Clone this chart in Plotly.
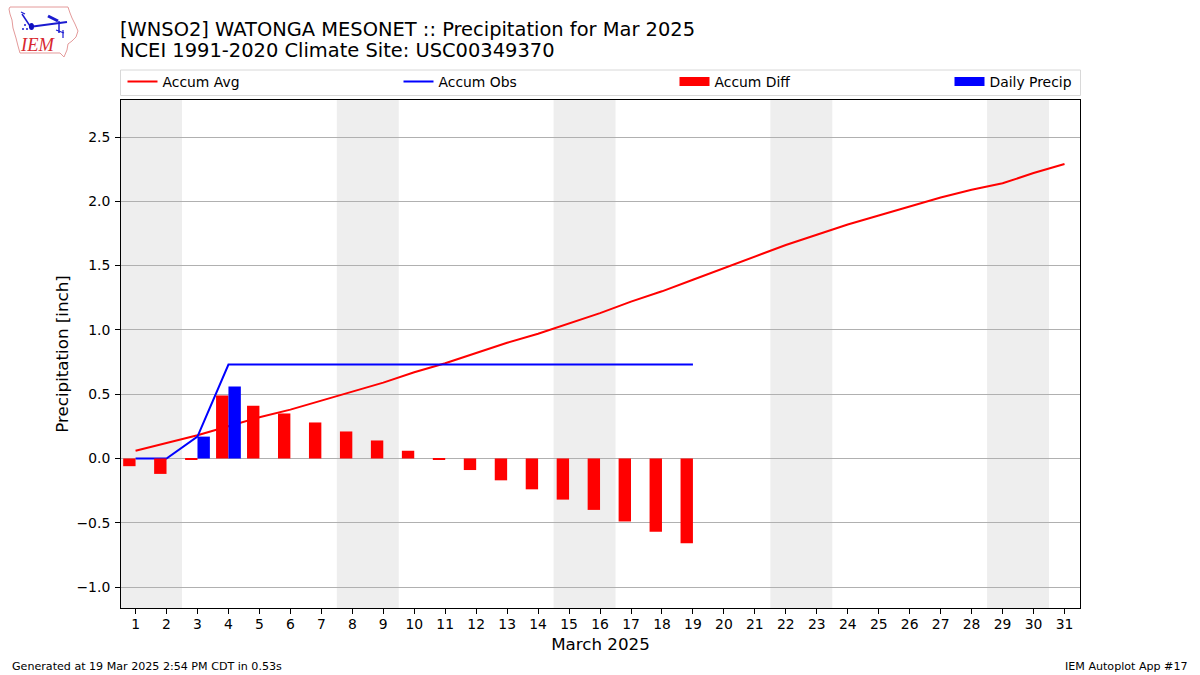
import plotly.graph_objects as go

days = list(range(1, 32))
obs_days = list(range(1, 20))
accum_avg = [0.06, 0.12, 0.18, 0.25, 0.32, 0.38, 0.45, 0.52, 0.59, 0.67, 0.74, 0.82, 0.90, 0.97, 1.05, 1.13,
             1.22, 1.30, 1.39, 1.48, 1.57, 1.66, 1.74, 1.82, 1.89, 1.96, 2.03, 2.09, 2.14, 2.22, 2.29]
accum_obs = [0.0, 0.0, 0.17, 0.73, 0.73, 0.73, 0.73, 0.73, 0.73, 0.73, 0.73, 0.73, 0.73, 0.73, 0.73, 0.73, 0.73, 0.73, 0.73]
accum_diff = [-0.06, -0.12, -0.01, 0.49, 0.41, 0.35, 0.28, 0.21, 0.14, 0.06, -0.01, -0.09, -0.17, -0.24, -0.32, -0.40, -0.49, -0.57, -0.66]
daily_precip = [0.0, 0.0, 0.17, 0.56, 0, 0, 0, 0, 0, 0, 0, 0, 0, 0, 0, 0, 0, 0, 0]
weekends = [(0.5, 2.5), (7.5, 9.5), (14.5, 16.5), (21.5, 23.5), (28.5, 30.5)]
yticks = [-1.0, -0.5, 0.0, 0.5, 1.0, 1.5, 2.0, 2.5]

W, H = 1200, 675
L, R, T, B = 121, 1080, 100, 608
YR = [-1.163, 2.788]
XR = [0.53, 31.5]
FONT = "DejaVu Sans"


def px(x):
    return (x - L) / (R - L)


def py(y):
    return (B - y) / (B - T)


def pth(points, close=False):
    s = "M" + " L".join(f"{px(x):.5f},{py(y):.5f}" for x, y in points)
    return s + (" Z" if close else "")


fig = go.Figure()
fig.add_trace(go.Scatter(x=days, y=accum_avg, mode="lines", name="Accum Avg",
                         line=dict(color="#ff0000", width=2)))
fig.add_trace(go.Scatter(x=obs_days, y=accum_obs, mode="lines", name="Accum Obs",
                         line=dict(color="#0000ff", width=2)))
fig.add_trace(go.Bar(x=obs_days, y=accum_diff, width=0.4, offset=-0.4, yaxis="y2", name="Accum Diff",
                     marker=dict(color="#ff0000", line=dict(width=0)), showlegend=False))
fig.add_trace(go.Bar(x=obs_days, y=daily_precip, width=0.4, offset=0, yaxis="y2", name="Daily Precip",
                     marker=dict(color="#0000ff", line=dict(width=0)), showlegend=False))
# legend swatches for the bars
fig.add_trace(go.Scatter(x=[None], y=[None], mode="lines", name="Accum Diff",
                         line=dict(color="#ff0000", width=9)))
fig.add_trace(go.Scatter(x=[None], y=[None], mode="lines", name="Daily Precip", legend="legend2",
                         line=dict(color="#0000ff", width=9)))

shapes = [dict(type="rect", xref="x", yref="paper", x0=a, x1=b, y0=0, y1=1, layer="below",
               fillcolor="#eeeeee", line=dict(width=0)) for a, b in weekends]

# legend frame
shapes.append(dict(type="rect", xref="paper", yref="paper", x0=px(120.5), x1=px(1080.5), y0=py(95.5), y1=py(70),
                   line=dict(color="#d8d8d8", width=1), fillcolor="rgba(0,0,0,0)"))

# IEM logo
outline = [(9, 9), (10, 7), (68, 7), (70, 13), (72, 18), (75, 24), (78, 31), (76, 37), (72, 41), (68, 44), (67, 50), (64, 57),
           (60, 53), (20, 53), (18, 46), (16, 38), (13, 28), (12, 20), (10, 14)]
shapes.append(dict(type="path", xref="paper", yref="paper", path=pth(outline, True),
                   line=dict(color="#e49a9a", width=1)))
for seg, w in [([(29, 27), (67, 22)], 2), ([(22, 14), (30, 26)], 1.5), ([(21, 12), (25, 14)], 1.2), ([(59, 21), (59, 33)], 1.5),
               ([(48, 16), (58, 21)], 3), ([(56, 30), (64, 33)], 1.2), ([(63, 30), (63, 38)], 1.2)]:
    shapes.append(dict(type="path", xref="paper", yref="paper", path=pth(seg),
                       line=dict(color="#1a1ad0", width=w)))
shapes.append(dict(type="circle", xref="paper", yref="paper", x0=px(29), x1=px(34), y0=py(30), y1=py(23),
                   fillcolor="#1010c0", line=dict(width=0)))
for x0, y0 in [(22, 28), (26, 28), (24, 24)]:
    shapes.append(dict(type="circle", xref="paper", yref="paper", x0=px(x0), x1=px(x0 + 2), y0=py(y0 + 2), y1=py(y0),
                       fillcolor="#1a1ad0", line=dict(width=0)))

annotations = [
    dict(text="[WNSO2] WATONGA MESONET :: Precipitation for Mar 2025", xref="paper", yref="paper", x=px(118), y=py(29),
         xanchor="left", yanchor="middle", showarrow=False, font=dict(family=FONT, size=19.45, color="black")),
    dict(text="NCEI 1991-2020 Climate Site: USC00349370", xref="paper", yref="paper", x=px(118), y=py(50.5),
         xanchor="left", yanchor="middle", showarrow=False, font=dict(family=FONT, size=19.45, color="black")),
    dict(text="Generated at 19 Mar 2025 2:54 PM CDT in 0.53s", xref="paper", yref="paper", x=px(10), y=py(666),
         xanchor="left", yanchor="middle", showarrow=False, font=dict(family=FONT, size=11.1, color="black")),
    dict(text="IEM Autoplot App #17", xref="paper", yref="paper", x=px(1190), y=py(666),
         xanchor="right", yanchor="middle", showarrow=False, font=dict(family=FONT, size=11.1, color="black")),
    dict(text="<i>IEM</i>", xref="paper", yref="paper", x=px(37.5), y=py(45), xanchor="center", yanchor="middle",
         showarrow=False, font=dict(family="Liberation Serif", size=18.5, color="#d8282f")),
]

axis_common = dict(showline=True, linecolor="black", linewidth=1, mirror=True, ticks="outside", ticklen=5,
                   tickwidth=1, tickcolor="black", tickfont=dict(family=FONT, size=13.9, color="black"))

legend_common = dict(orientation="h", xanchor="left", y=py(82), yanchor="middle", bgcolor="rgba(0,0,0,0)", borderwidth=0,
                     font=dict(family=FONT, size=13.9, color="black"))

fig.update_layout(
    width=W, height=H, autosize=False,
    margin=dict(l=L, r=W - R, t=T, b=H - B, pad=0),
    paper_bgcolor="white", plot_bgcolor="white",
    barmode="overlay", shapes=shapes, annotations=annotations,
    font=dict(family=FONT, color="black"),
    xaxis=dict(range=XR, tickmode="array", tickvals=days, ticktext=[str(d) for d in days], showgrid=False,
               zeroline=False, ticklabelstandoff=-2,
               title=dict(text="March 2025", font=dict(family=FONT, size=16.7), standoff=7),
               **axis_common),
    yaxis=dict(range=YR, tickmode="array", tickvals=yticks, tickformat=".1f", showgrid=True, gridcolor="#b0b0b0",
               gridwidth=1, zeroline=False, ticklabelstandoff=2,
               title=dict(text="Precipitation [inch]", font=dict(family=FONT, size=16.7), standoff=3),
               **axis_common),
    yaxis2=dict(range=YR, overlaying="y", visible=False),
    legend=dict(x=px(122.5), entrywidth=231, entrywidthmode="pixels", **legend_common),
    legend2=dict(x=px(949.5), **legend_common),
)
fig.write_html("out.html", config={"displayModeBar": False}, post_script="document.body.style.margin='0';")
